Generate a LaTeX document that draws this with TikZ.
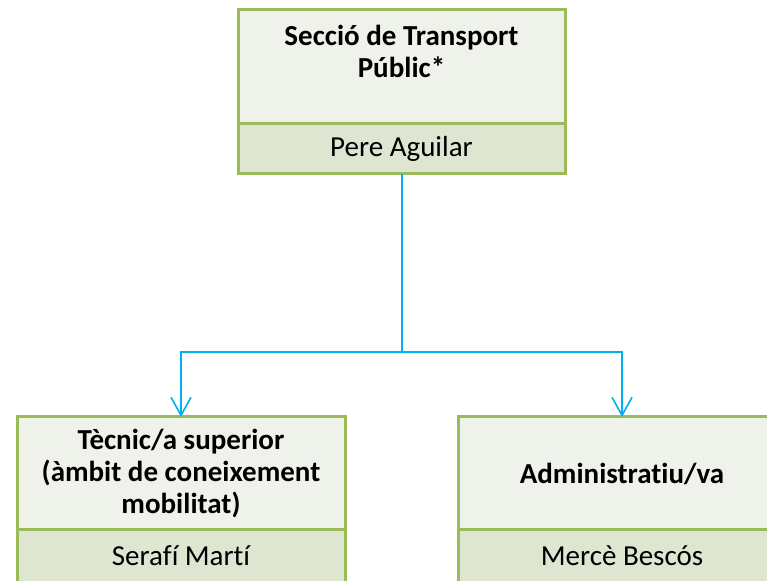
\documentclass[tikz,border=0pt]{standalone}
\usepackage{fontspec}
\setmainfont{Carlito}[Ligatures={NoCommon}]
\usetikzlibrary{
  arrows.meta,
  positioning,
}
\definecolor{boxgreen}{HTML}{9BBB59}
\definecolor{titlebg}{HTML}{EFF2EA}
\definecolor{namebg}{HTML}{DEE6D2}
\definecolor{linkblue}{HTML}{00B0F0}

\begin{document}
\begin{tikzpicture}[x=1pt, y=1pt,
  titlebox/.style={draw=boxgreen, line width=3pt, fill=titlebg, outer sep=0pt,
    inner sep=0pt, minimum width=327pt, minimum height=114pt, align=center,
    font=\fontsize{29}{32}\selectfont\bfseries},
  namebox/.style={draw=boxgreen, line width=3pt, fill=namebg, outer sep=0pt,
    inner sep=0pt, minimum width=327pt, minimum height=50pt,
    font=\fontsize{29}{32}\selectfont},
  link/.style={draw=linkblue, line width=2pt},
  linkarrow/.style={link, -{Straight Barb[length=18pt, width=20pt, line width=1.6pt]}},
  ]
  \clip (0,0) rectangle (767,580);
  \fill[white] (0,0) rectangle (767,580);

  % head of the section
  \node[titlebox] (sec) at (401.5,513) {Secció de Transport\\Públic*\\ \mbox{}};
  \node[namebox, below=0pt of sec] (secname) {Pere Aguilar};

  % staff
  \node[titlebox, minimum width=328pt, minimum height=113pt] (tec) at (181,106.5)
    {Tècnic/a superior\\(àmbit de coneixement\\mobilitat)};
  \node[namebox, minimum width=328pt, minimum height=52pt, below=0pt of tec] (tecname) {Serafí Martí};
  \node[titlebox, minimum width=328pt, minimum height=113pt] (adm) at (622,106.5) {Administratiu/va};
  \node[namebox, minimum width=328pt, minimum height=52pt, below=0pt of adm] (admname) {Mercè Bescós};

  % links
  \path (secname.south) ++(0,-178) coordinate (split);
  \draw[link] (secname.south) -- (split);
  \draw[linkarrow] (split) -| (tec.north);
  \draw[linkarrow] (split) -| (adm.north);
\end{tikzpicture}
\end{document}
